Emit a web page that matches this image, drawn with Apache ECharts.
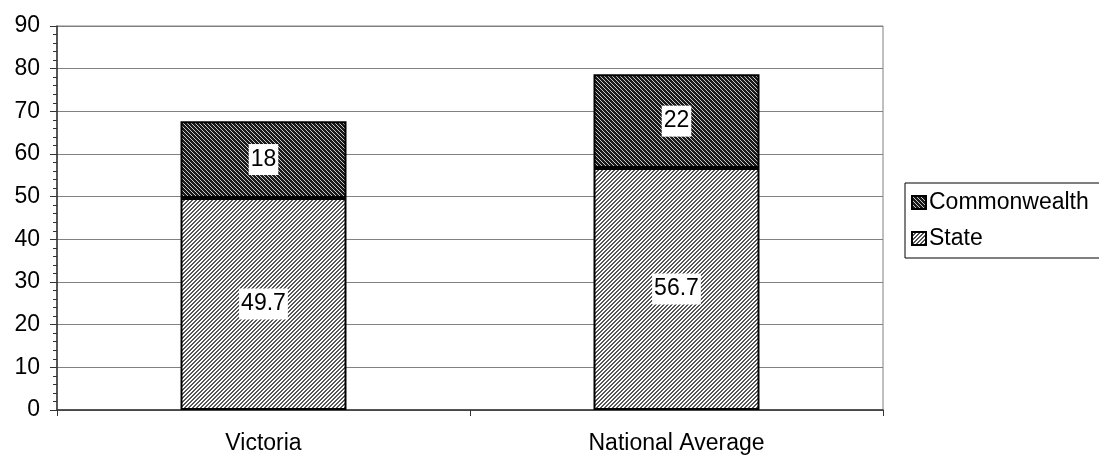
<!DOCTYPE html>
<html>
<head>
<meta charset="utf-8">
<script src="https://cdn.jsdelivr.net/npm/echarts@6/dist/echarts.min.js"></script>
<style>
html, body { margin: 0; padding: 0; background: #fff; }
#div1 { width: 1099px; height: 455px; }
</style>
</head>
<body>
<div id="div1"></div>
<script>
var categories = ['Victoria', 'National Average'];
var stateValues = [49.7, 56.7];
var commonwealthValues = [18, 22];
var yTicks = [0, 90, 10];

// hatch patterns like the old spreadsheet fills
function makePattern(bg, fg, dir, thick) {
    var c = document.createElement('canvas');
    c.width = 4; c.height = 4;
    var ctx = c.getContext('2d');
    ctx.fillStyle = bg;
    ctx.fillRect(0, 0, 4, 4);
    ctx.fillStyle = fg;
    for (var i = 0; i < 4; i++) {
        var x = dir > 0 ? i : 3 - i;
        ctx.fillRect(x, i, 1, 1);
        if (thick) ctx.fillRect((x + 1) % 4, i, 1, 1);
    }
    return { image: c, repeat: 'repeat' };
}

var darkFill = makePattern('#1a1a1a', '#c8c8c8', 1, false);
var lightFill = makePattern('#fff', '#555', -1, true);

var font = 'Liberation Sans, Arial, sans-serif';
var chart = echarts.init(document.getElementById('div1'));
var labelStyle = {
    show: true,
    position: 'inside',
    color: '#000',
    backgroundColor: '#fff',
    padding: [5, 2, 3, 2],
    fontSize: 23,
    fontFamily: font
};
var option = {
    animation: false,
    grid: {
        left: 57, top: 26, right: 216, bottom: 45,
        show: true, borderColor: '#808080', borderWidth: 1
    },
    legend: {
        data: ['Commonwealth', 'State'],
        orient: 'vertical',
        left: 905, top: 183,
        icon: 'rect',
        itemWidth: 14, itemHeight: 13, itemGap: 13,
        padding: [8, 60, 8, 6],
        borderColor: '#000', borderWidth: 1,
        textStyle: { fontSize: 23, color: '#000', fontFamily: font, padding: [0, 0, 0, -2] }
    },
    xAxis: {
        type: 'category',
        data: categories,
        axisLine: { lineStyle: { color: '#333', width: 1.5 } },
        axisTick: { show: true, length: 6, lineStyle: { color: '#333' } },
        axisLabel: { fontSize: 23, color: '#000', fontFamily: font, margin: 22 }
    },
    yAxis: {
        type: 'value',
        min: yTicks[0], max: yTicks[1], interval: yTicks[2],
        axisLine: { show: true, lineStyle: { color: '#333', width: 1.5 } },
        axisTick: { show: true, length: 7, lineStyle: { color: '#333' } },
        minorTick: { show: true, splitNumber: 5, length: 4, lineStyle: { color: '#333' } },
        splitLine: { lineStyle: { color: '#808080', width: 1 } },
        axisLabel: { fontSize: 23, color: '#000', fontFamily: font, margin: 17 }
    },
    series: [
        {
            name: 'State', type: 'bar', stack: 'total', barWidth: 166,
            data: stateValues,
            itemStyle: { color: lightFill, borderColor: '#000', borderWidth: 2 },
            label: labelStyle
        },
        {
            name: 'Commonwealth', type: 'bar', stack: 'total', barWidth: 166,
            data: commonwealthValues,
            itemStyle: { color: darkFill, borderColor: '#000', borderWidth: 2 },
            label: labelStyle
        }
    ]
};
chart.setOption(option);
</script>
</body>
</html>
